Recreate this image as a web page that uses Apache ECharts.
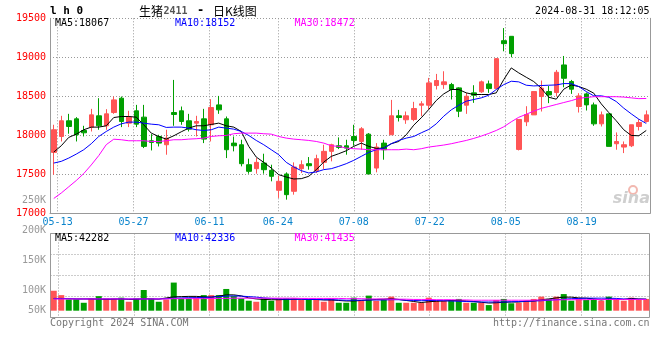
<!DOCTYPE html>
<html><head><meta charset="utf-8">
<script src="https://cdn.jsdelivr.net/npm/echarts@6/dist/echarts.min.js"></script>
<style>html,body{margin:0;padding:0;background:#fff}#c{width:660px;height:360px}</style>
</head><body><div id="c"></div>
<script>
// ---------- data ----------
const dates = ['05-10','05-13','05-14','05-15','05-16','05-17','05-20','05-21','05-22','05-23','05-24',
 '05-27','05-28','05-29','05-30','05-31','06-03','06-04','06-05','06-06','06-07',
 '06-11','06-12','06-13','06-14','06-17','06-18','06-19','06-20','06-21',
 '06-24','06-25','06-26','06-27','06-28','07-01','07-02','07-03','07-04','07-05',
 '07-08','07-09','07-10','07-11','07-12','07-15','07-16','07-17','07-18','07-19',
 '07-22','07-23','07-24','07-25','07-26','07-29','07-30','07-31','08-01','08-02',
 '08-05','08-06','08-07','08-08','08-09','08-12','08-13','08-14','08-15','08-16',
 '08-19','08-20','08-21','08-22','08-23','08-26','08-27','08-28','08-29','08-30'];
const opens = [17781,17985,18186,18211,18062,18105,18250,18122,18292,18476,
 18156,18314,18233,17930,17985,17879,18292,18314,18186,18156,
 18211,18135,18390,18211,17900,17879,17623,17572,17644,17551,
 17295,17504,17282,17572,17636,17546,17653,17794,17866,17866,
 17985,17921,18015,17580,17900,18007,18250,18199,18203,18386,
 18386,18638,18650,18650,18608,18386,18544,18557,18659,18599,
 19213,19269,17819,18173,18262,18497,18561,18548,18902,18689,
 18369,18531,18390,18147,18275,17892,17849,17866,18113,18177];
const closes = [18071,18186,18113,18007,18032,18262,18122,18275,18454,18177,
 18233,18143,17858,17909,17900,17964,18267,18177,18079,18177,
 17951,18356,18326,17815,17866,17636,17538,17653,17559,17474,
 17410,17239,17593,17623,17610,17700,17794,17879,17845,17836,
 17934,18083,17504,17849,17815,18250,18228,18250,18343,18403,
 18672,18702,18685,18587,18309,18501,18514,18685,18599,18983,
 19175,19047,18203,18267,18561,18604,18518,18808,18731,18591,
 18505,18390,18147,18262,17858,17921,17879,18135,18164,18262];
const lows = [17495,17921,18020,17921,17985,18049,18071,18071,18275,18105,
 18105,18105,17836,17806,17857,17751,18122,18135,18049,17985,
 17900,17921,18275,17708,17794,17602,17508,17508,17508,17410,
 17197,17175,17239,17517,17559,17517,17568,17666,17823,17751,
 17866,17815,17504,17525,17687,18007,18177,18147,18181,18245,
 18331,18587,18595,18459,18233,18275,18416,18544,18544,18599,
 19077,19000,17806,18118,18262,18305,18412,18497,18616,18531,
 18292,18318,18122,18113,17858,17815,17772,17849,18062,18164];
const highs = [18135,18250,18275,18233,18122,18339,18476,18335,18497,18497,
 18314,18390,18390,18015,18007,18071,18710,18369,18275,18250,
 18339,18463,18505,18241,17985,17943,17700,17708,17764,17623,
 17482,17525,17653,17679,17721,17751,17879,17892,17973,17943,
 18135,18105,18028,17900,17943,18454,18326,18305,18429,18437,
 18736,18787,18821,18672,18616,18544,18642,18702,18702,18991,
 19375,19269,18203,18373,18561,18702,18633,18838,19017,18710,
 18540,18548,18420,18305,18275,18037,17921,18135,18207,18318];
const ma5 = [17785,17866,17973,18015,18071,18105,18105,18122,18228,18241,
 18241,18233,18135,18028,17985,17951,17994,18045,18092,18122,
 18122,18139,18156,18122,18105,18049,17858,17721,17653,17580,
 17495,17465,17440,17444,17474,17559,17657,17730,17764,17802,
 17858,17900,17858,17832,17836,17892,17921,18007,18130,18224,
 18331,18446,18531,18587,18587,18544,18523,18523,18523,18544,
 18714,18864,18800,18744,18689,18604,18488,18463,18591,18646,
 18625,18591,18540,18403,18292,18186,18071,17998,17994,18062];
const ma10 = [17644,17666,17708,17759,17815,17892,17985,18049,18105,18147,
 18169,18169,18156,18143,18135,18101,18105,18105,18092,18071,
 18062,18071,18105,18092,18079,18049,17998,17934,17879,17815,
 17751,17653,17594,17547,17517,17530,17560,17572,17602,17636,
 17679,17730,17781,17815,17836,17892,17934,17964,17985,18032,
 18075,18147,18245,18326,18386,18437,18459,18480,18514,18587,
 18650,18693,18685,18642,18633,18638,18642,18646,18663,18663,
 18625,18561,18506,18506,18488,18433,18348,18275,18207,18152];
const ma30 = [17190,17260,17340,17420,17510,17620,17740,17880,17950,17943,
 17930,17930,17930,17921,17921,17930,17943,17943,17951,17956,
 17964,17985,17994,17998,18020,18028,18028,18028,18020,18015,
 17985,17964,17951,17943,17934,17921,17900,17866,17858,17836,
 17828,17823,17815,17815,17815,17815,17815,17823,17815,17828,
 17849,17862,17875,17892,17913,17934,17960,17990,18024,18062,
 18109,18173,18231,18270,18310,18345,18370,18395,18420,18444,
 18474,18485,18495,18495,18495,18495,18490,18480,18470,18472];
const volumes = [78000,61000,44000,44000,31000,48000,57000,48000,48000,51000,
 35000,48000,81000,48000,35000,44000,110000,48000,48000,52000,
 61000,61000,61000,85000,57000,48000,39000,35000,48000,39000,
 48000,48000,48000,42000,42000,42000,35000,48000,31000,31000,
 51000,39000,59000,39000,44000,55000,31000,31000,31000,31000,
 51000,39000,39000,42000,46000,31000,31000,31000,22000,42000,
 46000,29000,31000,39000,46000,55000,46000,55000,65000,39000,
 48000,42000,46000,39000,55000,42000,39000,51000,42000,46000];
const volMa5 = [48000,48000,47000,46000,46000,46000,45000,44000,45000,46000,
 44000,44000,47000,46000,45000,50000,54000,55000,56000,56000,
 54000,53000,57000,62000,62000,58000,50000,46000,44000,43000,
 43000,44000,45000,45000,44000,44000,42000,42000,40000,38000,
 38000,40000,42000,44000,45000,47000,44000,40000,36000,32000,
 35000,37000,38000,40000,40000,38000,36000,33000,30000,31000,
 33000,34000,34000,37000,38000,43000,46000,50000,53000,53000,
 50000,49000,46000,42000,46000,44000,44000,48000,46000,45000];
const volMa10 = [47000,47000,47000,46000,46000,46000,46000,46000,46000,46000,
 46000,46000,46000,46000,46000,47000,49000,50000,51000,51000,
 52000,53000,55000,57000,58000,57000,55000,53000,50000,48000,
 46000,45000,45000,45000,44000,44000,43000,43000,42000,41000,
 41000,41000,42000,42000,42000,43000,43000,41000,40000,39000,
 40000,40000,39000,38000,37000,36000,35000,34000,34000,34000,
 34000,35000,36000,37000,38000,39000,41000,43000,45000,47000,
 48000,49000,49000,49000,49000,48000,46000,45000,45000,45000];
const volMa30 = [46000,46000,46000,46000,46000,46000,46000,46000,46000,46000,
 46000,46000,46000,46000,46000,46000,47000,47000,47000,47000,
 47000,48000,48000,48000,49000,49000,49000,49000,49000,49000,
 49000,49000,49000,48000,48000,48000,48000,48000,48000,47000,
 47000,47000,46000,46000,46000,45000,45000,45000,44000,44000,
 44000,43000,43000,43000,42000,42000,41000,41000,41000,41000,
 41000,41000,41000,41000,41000,42000,42000,42000,43000,43000,
 43000,43000,44000,44000,44000,44000,44000,44000,44000,44000];
const labelDates = ['05-13','05-27','06-11','06-24','07-08','07-22','08-05','08-19'];
const priceAxis = {min: 17000, max: 19500, step: 500};
const volLabelAxis = {min: 50000, max: 250000, step: 50000};
const headerCode = 'l h 0';
const headerName = '生猪';
const headerContract = '2411';
const headerKind = '日K线图';
const headerTime = '2024-08-31 18:12:05';
const priceMaText = ['MA5:18067', 'MA10:18152', 'MA30:18472'];
const volMaText = ['MA5:42282', 'MA10:42336', 'MA30:41435'];
const footLeft = 'Copyright 2024 SINA.COM';
const footRight = 'http://finance.sina.com.cn';

// ---------- chart ----------
const MONO = '"DejaVu Sans Mono", "Liberation Mono", monospace';
const CJK = '"Noto Sans CJK SC", sans-serif';
const UP = '#ff5555', DOWN = '#009f00';
const GRID_LINE = '#999';
const dotted = {color: '#999', type: [1, 2], width: 1};
const isLabel = (i) => labelDates.indexOf(dates[i]) >= 0;
const candleData = dates.map((d, i) => [opens[i], closes[i], lows[i], highs[i]]);
const volData = volumes.map((v, i) => ({value: v, itemStyle: {color: closes[i] >= opens[i] ? UP : DOWN}}));

const chart = echarts.init(document.getElementById('c'), null, {renderer: 'canvas'});
function txt(x, y, text, font, fill, align) {
  return {type: 'text', x: x, y: y, silent: true, z: 100,
    style: {text: text, font: font, fill: fill, align: align || 'left', textAlign: align || 'left',
      verticalAlign: 'middle', textVerticalAlign: 'middle'}};
}
const lineSeries = (data, color, xi, yi) => ({type: 'line', data: data, xAxisIndex: xi, yAxisIndex: yi,
  showSymbol: false, symbol: 'none', smooth: false, z: 5, silent: true,
  lineStyle: {color: color, width: 1}});

chart.setOption({
  animation: false,
  backgroundColor: '#fff',
  grid: [
    {left: 50, top: 18.3, width: 600, height: 195},
    {left: 50, top: 234, width: 600, height: 76.7},
    {left: 50.5, top: 233.5, width: 599, height: 84, show: true, borderColor: GRID_LINE, borderWidth: 1, backgroundColor: 'transparent'},
    {left: 50, top: 200.7, width: 600, height: 120}
  ],
  xAxis: [
    {gridIndex: 0, type: 'category', data: dates, boundaryGap: true, position: 'top', show: false},
    {gridIndex: 0, type: 'category', data: dates, boundaryGap: false, position: 'bottom',
      axisLine: {show: true, lineStyle: {color: GRID_LINE, width: 1}}, axisTick: {show: false},
      axisLabel: {show: true, interval: (i) => isLabel(i), color: '#0a84cc', fontFamily: MONO, fontSize: 10, margin: 4},
      splitLine: {show: true, interval: (i) => isLabel(i), lineStyle: dotted}},
    {gridIndex: 1, type: 'category', data: dates, boundaryGap: true, show: false},
    {gridIndex: 2, type: 'category', data: dates, boundaryGap: false,
      axisLine: {show: false}, axisTick: {show: false}, axisLabel: {show: false},
      splitLine: {show: true, interval: (i) => isLabel(i), lineStyle: dotted}},
    {gridIndex: 3, type: 'category', data: dates, show: false}
  ],
  yAxis: [
    {gridIndex: 0, type: 'value', min: priceAxis.min, max: priceAxis.max, interval: priceAxis.step, position: 'left',
      axisLine: {show: true, lineStyle: {color: GRID_LINE, width: 1}}, axisTick: {show: false},
      axisLabel: {color: '#ff0000', fontFamily: MONO, fontSize: 10, margin: 4, formatter: (v) => String(v)},
      splitLine: {show: true, lineStyle: dotted}},
    {gridIndex: 0, type: 'value', min: priceAxis.min, max: priceAxis.max, position: 'right',
      axisLine: {show: true, lineStyle: {color: GRID_LINE, width: 1}}, axisTick: {show: false},
      axisLabel: {show: false}, splitLine: {show: false}},
    {gridIndex: 1, type: 'value', min: 0, max: 300000, show: false, splitLine: {show: false}},
    {gridIndex: 2, type: 'value', min: 0, max: 4, interval: 1,
      axisLine: {show: false}, axisTick: {show: false}, axisLabel: {show: false},
      splitLine: {show: true, lineStyle: dotted}},
    {gridIndex: 3, type: 'value', min: volLabelAxis.min, max: volLabelAxis.max, interval: volLabelAxis.step,
      axisLine: {show: false}, axisTick: {show: false}, splitLine: {show: false},
      axisLabel: {color: '#999', fontFamily: MONO, fontSize: 10, margin: 4,
        formatter: (v) => v === volLabelAxis.min ? '{s|' + (v / 1000) + 'K}' : (v / 1000) + 'K',
        rich: {s: {color: '#999', fontFamily: MONO, fontSize: 10, padding: [0, 0, 21, 0]}}}}
  ],
  series: [
    {type: 'candlestick', xAxisIndex: 0, yAxisIndex: 0, data: candleData, barWidth: 5, z: 3,
      itemStyle: {color: UP, color0: DOWN, borderColor: UP, borderColor0: DOWN, borderWidth: 1}},
    lineSeries(ma5, '#000000', 0, 0),
    lineSeries(ma10, '#0000ff', 0, 0),
    lineSeries(ma30, '#ff00ff', 0, 0),
    {type: 'bar', xAxisIndex: 2, yAxisIndex: 2, data: volData, barWidth: 6, z: 3, silent: true},
    lineSeries(volMa5, '#000000', 2, 2),
    lineSeries(volMa10, '#0000ff', 2, 2),
    lineSeries(volMa30, '#ff00ff', 2, 2)
  ],
  graphic: [
    txt(50, 11, headerCode, 'bold 11px ' + MONO, '#000'),
    txt(139, 11, headerName, '12px ' + CJK, '#000'),
    txt(163.5, 11, headerContract, 'bold 10px ' + MONO, '#555'),
    txt(197, 11, '-', 'bold 12px ' + MONO, '#000'),
    txt(213, 11, headerKind, '12px ' + CJK, '#000'),
    txt(649.5, 11.5, headerTime, '10px ' + MONO, '#000', 'right'),
    txt(55, 23.7, priceMaText[0], '10px ' + MONO, '#000'),
    txt(175, 23.7, priceMaText[1], '10px ' + MONO, '#0000ff'),
    txt(294.5, 23.7, priceMaText[2], '10px ' + MONO, '#ff00ff'),
    txt(55, 238.5, volMaText[0], '10px ' + MONO, '#000'),
    txt(175, 238.5, volMaText[1], '10px ' + MONO, '#0000ff'),
    txt(294.5, 238.5, volMaText[2], '10px ' + MONO, '#ff00ff'),
    txt(50, 323.5, footLeft, '10px ' + MONO, '#777'),
    txt(649.5, 323.5, footRight, '10px ' + MONO, '#777', 'right'),
    {type: 'circle', shape: {cx: 633, cy: 190, r: 4}, silent: true, z: 1,
      style: {fill: 'none', stroke: '#f2b8b0', lineWidth: 2}},
    txt(650, 199, 'sina', 'italic bold 16px "DejaVu Sans", sans-serif', '#cfcfcf', 'right')
  ]
});
</script></body></html>
